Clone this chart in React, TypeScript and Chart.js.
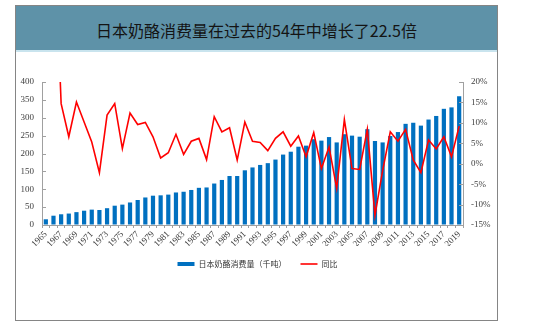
import React, { useEffect, useRef } from 'react';
import { Chart, registerables } from 'chart.js';

Chart.register(...registerables);

const TITLE = '日本奶酪消费量在过去的54年中增长了22.5倍';
const BAR_LABEL = '日本奶酪消费量（千吨）';
const LINE_LABEL = '同比';

const years = [
  '1965', '1966', '1967', '1968', '1969', '1970', '1971', '1972', '1973', '1974',
  '1975', '1976', '1977', '1978', '1979', '1980', '1981', '1982', '1983', '1984',
  '1985', '1986', '1987', '1988', '1989', '1990', '1991', '1992', '1993', '1994',
  '1995', '1996', '1997', '1998', '1999', '2000', '2001', '2002', '2003', '2004',
  '2005', '2006', '2007', '2008', '2009', '2010', '2011', '2012', '2013', '2014',
  '2015', '2016', '2017', '2018', '2019',
];

// 千吨
const consumption = [
  16, 26, 30, 32, 36, 40, 43, 42, 47, 54,
  57, 63, 70, 77, 82, 83, 85, 91, 93, 98,
  104, 105, 116, 126, 137, 137, 153, 161, 168, 173,
  183, 197, 205, 219, 222, 240, 236, 246, 231, 254,
  250, 247, 268, 235, 231, 249, 260, 283, 286, 278,
  295, 305, 325, 329, 360,
];

// 同比 (%)
const yoy: (number | null)[] = [
  null, 62, 14.7, 6.6, 15.1, 10.2, 5.3, -2.2, 11.9, 14.7,
  3.7, 12.4, 9.6, 10.1, 6.6, 1.4, 2.7, 7.2, 2.3, 5.5,
  6.2, 1.0, 11.5, 7.8, 8.8, 0.9, 10.2, 5.5, 5.2, 3.2,
  6.2, 7.8, 4.3, 6.8, 1.7, 7.6, -1.2, 4.1, -6.0, 10.8,
  -1.2, -1.4, 8.4, -12.6, -1.7, 7.8, 5.5, 8.4, 0.9, -2.2,
  5.8, 3.6, 6.6, 1.7, 9.2,
];

const leftMin = 0;
const leftMax = 400;
const leftStep = 50;
const rightMin = -15;
const rightMax = 20;
const rightStep = 5;

const AXIS_COLOR = '#a0a0a0';
const TICK_FONT = { family: "'Liberation Serif', 'Times New Roman', serif", size: 9 };

const innerTicks = {
  id: 'innerTicks',
  afterDraw(chart: any) {
    const { ctx, chartArea, scales } = chart;
    ctx.save();
    ctx.strokeStyle = AXIS_COLOR;
    ctx.lineWidth = 1;
    const y = scales.y;
    y.ticks.forEach((_t: any, i: number) => {
      const p = Math.round(y.getPixelForTick(i)) + 0.5;
      ctx.beginPath();
      ctx.moveTo(chartArea.left, p);
      ctx.lineTo(chartArea.left + 4, p);
      ctx.stroke();
    });
    const y1 = scales.y1;
    y1.ticks.forEach((_t: any, i: number) => {
      const p = Math.round(y1.getPixelForTick(i)) + 0.5;
      ctx.beginPath();
      ctx.moveTo(chartArea.right, p);
      ctx.lineTo(chartArea.right - 4, p);
      ctx.stroke();
    });
    ctx.restore();
  },
};

export default function App() {
  const canvasRef = useRef<HTMLCanvasElement | null>(null);

  useEffect(() => {
    if (!canvasRef.current) return;
    const chart = new Chart(canvasRef.current, {
      type: 'bar',
      data: {
        labels: years,
        datasets: [
          {
            type: 'bar',
            label: BAR_LABEL,
            data: consumption,
            backgroundColor: '#0070C0',
            borderWidth: 0,
            barPercentage: 0.55,
            categoryPercentage: 1,
            yAxisID: 'y',
            pointStyle: 'rect',
            order: 2,
          } as any,
          {
            type: 'line',
            label: LINE_LABEL,
            data: yoy,
            borderColor: '#FF0000',
            backgroundColor: '#FF0000',
            borderWidth: 1.6,
            pointRadius: 0,
            pointHoverRadius: 0,
            tension: 0,
            yAxisID: 'y1',
            pointStyle: 'line',
            order: 1,
          } as any,
        ],
      },
      options: {
        animation: false,
        responsive: false,
        maintainAspectRatio: false,
        layout: { padding: { top: 82, left: 0, right: 23, bottom: 45 } },
        plugins: {
          title: { display: false },
          tooltip: { enabled: false },
          legend: {
            display: true,
            position: 'bottom',
            labels: {
              usePointStyle: true,
              pointStyleWidth: 17,
              boxWidth: 17,
              boxHeight: 4,
              padding: 14,
              color: '#333333',
              font: { family: "'Noto Sans CJK SC', sans-serif", size: 8 },
              sort: (a: any, b: any) => a.datasetIndex - b.datasetIndex,
            },
          },
        },
        scales: {
          x: {
            offset: true,
            grid: {
              display: true,
              drawOnChartArea: false,
              drawTicks: true,
              tickLength: 3,
              color: AXIS_COLOR,
              offset: true,
            },
            border: { display: true, color: AXIS_COLOR },
            ticks: {
              autoSkip: false,
              maxRotation: 45,
              minRotation: 45,
              padding: 1,
              color: '#404040',
              font: TICK_FONT,
              callback: (_v: any, i: number) => (i % 2 === 0 ? years[i] : ''),
            },
            afterFit: (s: any) => {
              s.height = 21;
            },
          },
          y: {
            position: 'left',
            min: leftMin,
            max: leftMax,
            grid: { display: true, drawOnChartArea: false, drawTicks: false },
            border: { display: true, color: AXIS_COLOR },
            ticks: { stepSize: leftStep, padding: 8, color: '#404040', font: TICK_FONT },
            afterFit: (s: any) => {
              s.width = 42;
            },
          },
          y1: {
            position: 'right',
            min: rightMin,
            max: rightMax,
            grid: { display: true, drawOnChartArea: false, drawTicks: false },
            border: { display: true, color: AXIS_COLOR },
            ticks: {
              stepSize: rightStep,
              padding: 8,
              color: '#404040',
              font: TICK_FONT,
              callback: (v: any) => `${v}%`,
            },
            afterFit: (s: any) => {
              s.width = 52;
            },
          },
        },
      },
      plugins: [innerTicks],
    } as any);
    return () => chart.destroy();
  }, []);

  return (
    <div style={{ position: 'absolute', left: 0, top: 0, width: 538, height: 323, background: '#ffffff' }}>
      <div
        style={{
          position: 'absolute',
          left: 15,
          top: 5,
          width: 481,
          height: 314,
          border: '1px solid #858585',
          boxSizing: 'content-box',
        }}
      >
        <div
          style={{
            position: 'absolute',
            left: 0,
            top: 0,
            right: 0,
            height: 46,
            background: '#5E92A8',
            borderBottom: '2px solid #C9E4EE',
            display: 'flex',
            alignItems: 'center',
            justifyContent: 'center',
            paddingTop: 4,
            boxSizing: 'border-box',
            fontFamily: "'Noto Sans CJK SC', sans-serif",
            fontSize: 16,
            color: '#141414',
          }}
        >
          {TITLE}
        </div>
      </div>
      <canvas
        ref={canvasRef}
        width={538}
        height={323}
        style={{ position: 'absolute', left: 0, top: 0, width: 538, height: 323 }}
      />
    </div>
  );
}
